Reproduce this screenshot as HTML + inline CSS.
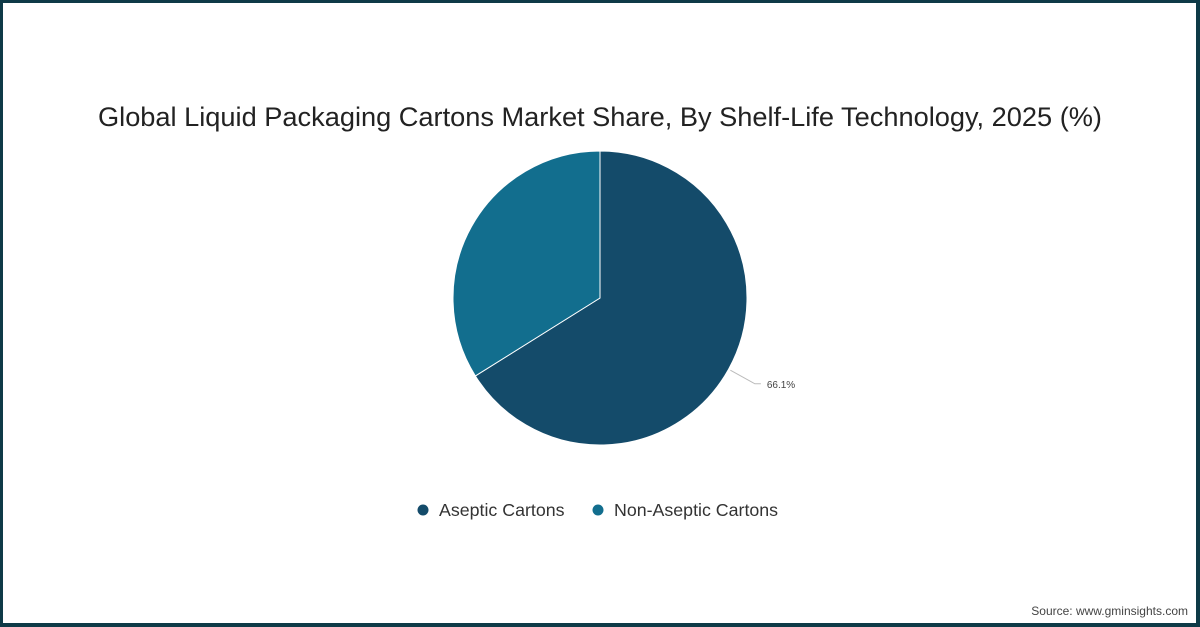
<!DOCTYPE html>
<html><head><meta charset="utf-8"><style>
html,body{margin:0;padding:0}
body{width:1200px;height:627px;overflow:hidden;background:#fff;font-family:"Liberation Sans",sans-serif}
#frame{position:absolute;left:0;top:0;width:1200px;height:627px;box-sizing:border-box;border:3px solid #0e3a47;border-right-width:4px;border-bottom-width:4px}
#title{position:absolute;left:0;width:1200px;top:101px;text-align:center;font-size:27.2px;color:#222}
#source{position:absolute;right:12px;top:604px;font-size:12px;color:#444}
</style></head><body>
<div id="frame"></div>
<div id="title">Global Liquid Packaging Cartons Market Share, By Shelf-Life Technology, 2025 (%)</div>
<svg id="chart" width="1200" height="627" style="position:absolute;left:0;top:0"></svg>
<div id="source">Source: www.gminsights.com</div>
<script>
const categories=["Aseptic Cartons","Non-Aseptic Cartons"];
const values=[66.1,33.9];
const colors=["#144b6a","#126e8e"];
const labels=["66.1%",null];
const svg=document.getElementById('chart');
const NS="http://www.w3.org/2000/svg";
const cx=600,cy=298,r=147;
const total=values.reduce((a,b)=>a+b,0);
function pt(a,rr){return [cx+rr*Math.sin(a),cy-rr*Math.cos(a)];}
let start=0;
values.forEach((v,i)=>{
  const ang=v/total*2*Math.PI,end=start+ang;
  const [x1,y1]=pt(start,r),[x2,y2]=pt(end,r);
  const p=document.createElementNS(NS,'path');
  p.setAttribute('d',`M${cx},${cy}L${x1},${y1}A${r},${r} 0 ${ang>Math.PI?1:0} 1 ${x2},${y2}Z`);
  p.setAttribute('fill',colors[i]);p.setAttribute('stroke','#fff');p.setAttribute('stroke-width','1');
  
  
  svg.appendChild(p);
  if(labels[i]){
    const mid=start+ang/2;
    const [ax,ay]=pt(mid,r+2);
    const [bx,by]=pt(mid,r+30);
    const ln=document.createElementNS(NS,'polyline');
    ln.setAttribute('points',`${ax},${ay} ${bx},${by} ${bx+6},${by}`);
    ln.setAttribute('fill','none');ln.setAttribute('stroke','#bbb');
    
    
    svg.appendChild(ln);
    const t=document.createElementNS(NS,'text');
    t.setAttribute('x',bx+12);t.setAttribute('y',by+4);t.setAttribute('font-size','10');t.setAttribute('fill','#444');
    t.setAttribute('font-family','"Liberation Sans",sans-serif');
    t.textContent=labels[i];
    
    
    svg.appendChild(t);
  }
  start=end;
});
const lx=[423,598];
categories.forEach((c,i)=>{
  const g=document.createElementNS(NS,'g');
  
  
  const ci=document.createElementNS(NS,'circle');
  ci.setAttribute('cx',lx[i]);ci.setAttribute('cy',510);ci.setAttribute('r',5.5);ci.setAttribute('fill',colors[i]);
  g.appendChild(ci);
  const t=document.createElementNS(NS,'text');
  t.setAttribute('x',lx[i]+16);t.setAttribute('y',516);t.setAttribute('font-size','17.8');t.setAttribute('fill','#333');
  t.setAttribute('font-family','"Liberation Sans",sans-serif');
  t.textContent=c;g.appendChild(t);
  svg.appendChild(g);
});
</script>
</body></html>
